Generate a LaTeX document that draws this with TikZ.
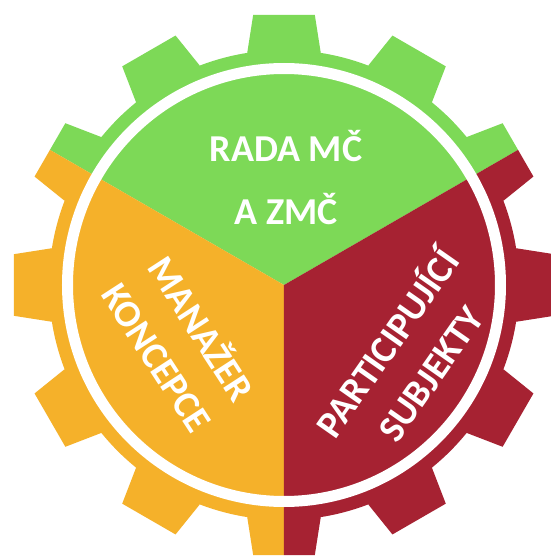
\documentclass[tikz,border=0pt]{standalone}
\usepackage{fontspec}
\setmainfont{Carlito}
\definecolor{gearGreen}{RGB}{125,217,87}
\definecolor{gearOrange}{RGB}{245,177,42}
\definecolor{gearRed}{RGB}{166,34,50}
\tikzset{
  gearlabel/.style={text=white, font=\bfseries\fontsize{38}{53}\selectfont, align=center}
}
\begin{document}
\begin{tikzpicture}[x=1pt,y=1pt]
  \useasboundingbox[fill=white] (-284,-272) rectangle (267,285);
  \coordinate (c) at (0,0);

  \foreach \col/\from in {gearGreen/30, gearOrange/150, gearRed/270} {
    \begin{scope}
      \clip (c) -- (\from:400) arc[start angle=\from, end angle=\from+120, radius=400] -- cycle;
      \fill[\col] (-9:235) \foreach \a in {0,30,...,330} {
        -- (\a-9:235) -- (\a-6.5:272) -- (\a+6.5:272) -- (\a+9:235)
        arc[start angle=\a+9, end angle=\a+21, radius=235]} -- cycle;
    \end{scope}
  }
  \draw[white,line width=11pt] (c) circle [radius=216.5];

  \node[gearlabel] (rada) at (2,107) {RADA MČ\\[10pt]A ZMČ};
  \node[gearlabel,rotate=-57] (manazer) at (-103,-57) {MANAŽER\\KONCEPCE};
  \node[gearlabel,rotate=55] (subjekty) at (123,-72) {PARTICIPUJÍCÍ\\SUBJEKTY};
\end{tikzpicture}
\end{document}
